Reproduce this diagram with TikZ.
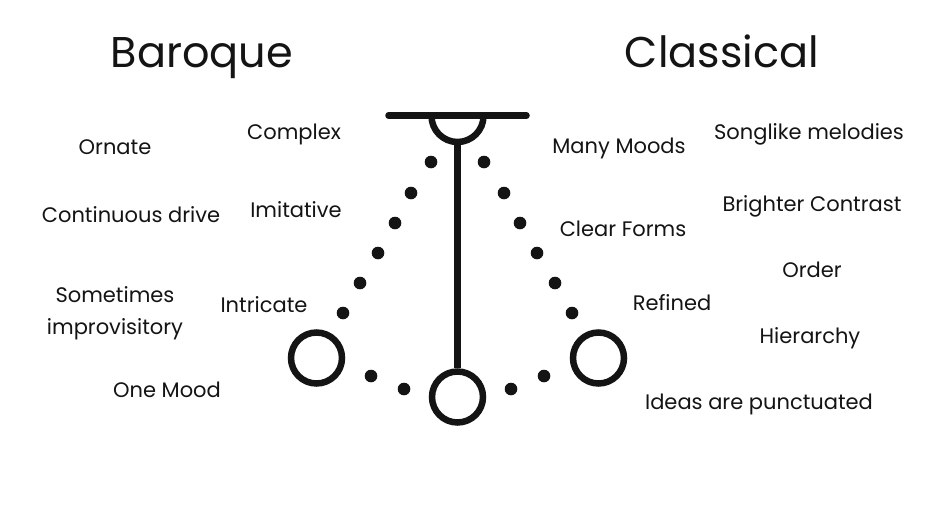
\documentclass[tikz,border=0pt]{standalone}
\usepackage{fontspec}
\setmainfont{Poppins}
\usetikzlibrary{positioning}
\definecolor{tinte}{HTML}{141414}

\begin{document}
\begin{tikzpicture}[x=1pt, y=-1pt,
        hd/.style={font=\fontsize{43}{47}\selectfont, text=tinte, anchor=base},
        lbl/.style={font=\fontsize{21}{32}\selectfont, text=tinte, anchor=base,
                    align=center},
        bob/.style={circle, draw=tinte, line width=6.5pt, minimum size=51pt,
                    inner sep=0pt},
        dot/.style={circle, fill=tinte, minimum size=12.6pt, inner sep=0pt},
        rod/.style={draw=tinte, line width=6.5pt}
      ]
      \useasboundingbox[fill=white] (0,0) rectangle (939,528);
      % headings
      \node[hd] (baroque)   at (202,67) {Baroque};
      \node[hd] (classical) at (722,67) {Classical};
      % baroque side
      \node[lbl] (ornate)  at (115,154) {Ornate};
      \node[lbl] (complex) at (294,139) {Complex};
      \node[lbl] (drive)   at (131,222) {Continuous drive};
      \node[lbl] (imit)    at (296,217) {Imitative};
      \node[lbl] (improv)  at (115,334) {Sometimes\\improvisitory};
      \node[lbl] (intric)  at (264,312) {Intricate};
      \node[lbl] (onemood) at (167,397) {One Mood};
      % classical side
      \node[lbl] (moods)   at (619,153) {Many Moods};
      \node[lbl] (song)    at (809,139) {Songlike melodies};
      \node[lbl] (forms)   at (623,236) {Clear Forms};
      \node[lbl] (bright)  at (812,211) {Brighter Contrast};
      \node[lbl] (order)   at (812,277) {Order};
      \node[lbl] (refined) at (672,310) {Refined};
      \node[lbl] (hier)    at (810,343) {Hierarchy};
      \node[lbl] (ideas)   at (759,409) {Ideas are punctuated};
      % pendulum
      \draw[rod, line cap=round] (388.5,115.5) -- (526.5,115.5);
      \draw[rod] (431.5,116) arc[start angle=180, end angle=0, radius=26];
      \coordinate (pivot) at (457.5,142);
      \node[bob] (bobm) at (457.5,397) {};
      \node[bob] (bobl) at (316.5,358) {};
      \node[bob] (bobr) at (598.5,358) {};
      \draw[rod] (pivot) -- (bobm.north);
      % swing dots
      \foreach \x/\y in {431/162, 411/193, 395/223, 378/253, 360/283, 343/313,
                         371/376, 404/389} {
        \node[dot] at (\x,\y) {};
        \node[dot] at (915-\x,\y) {};
      }
\end{tikzpicture}
\end{document}
